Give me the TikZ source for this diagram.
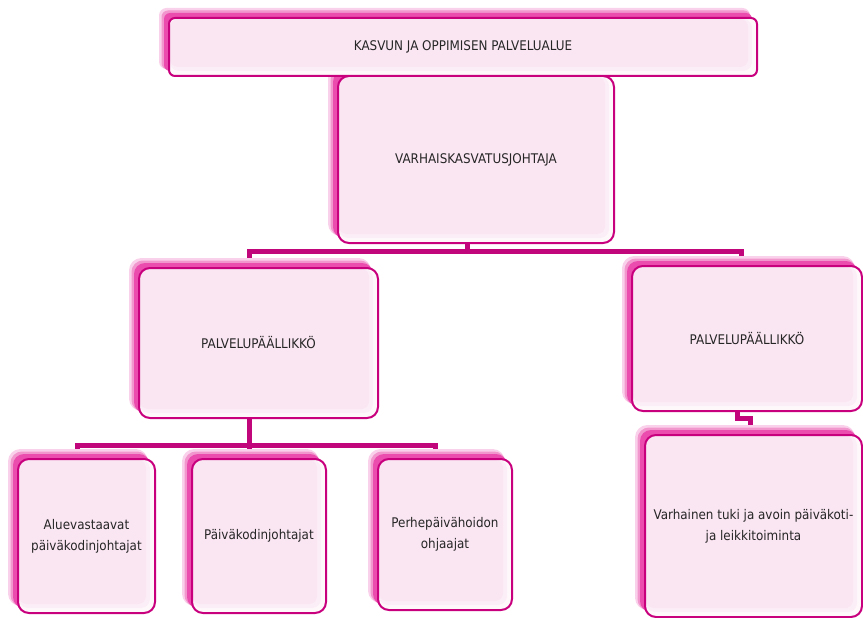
\documentclass[tikz,border=0pt]{standalone}
\usepackage{fontspec}
\setmainfont{DejaVu Sans Condensed}
\usetikzlibrary{backgrounds}
\definecolor{bordermag}{HTML}{C8007E}
\definecolor{conncol}{HTML}{C0067A}
\definecolor{shadowmag}{HTML}{E62E9E}
\definecolor{fillpink}{HTML}{FAE5F2}
\definecolor{midpink}{HTML}{FCEEF6}
\definecolor{lightpink}{HTML}{FEF8FB}
\tikzset{
  orgbox/.style={draw=bordermag, line width=2pt, rounded corners=11pt,
    fill=lightpink, text=black!85, font=\fontsize{13.3}{21}\selectfont, align=center, inner sep=0pt,
    preaction={fill=shadowmag!22, draw=shadowmag!22, line width=3pt,
      transform canvas={xshift=-8.5pt,yshift=8.5pt}},
    preaction={fill=shadowmag!50, draw=shadowmag!50, line width=1pt,
      transform canvas={xshift=-7pt,yshift=7pt}},
    preaction={fill=shadowmag!85, transform canvas={xshift=-5pt,yshift=5pt}},
    path picture={
      \fill[midpink, rounded corners=9pt]
        ([xshift=1pt,yshift=-1pt]path picture bounding box.north west) rectangle
        ([xshift=-5pt,yshift=5pt]path picture bounding box.south east);
      \fill[fillpink, rounded corners=8pt]
        ([xshift=1pt,yshift=-1pt]path picture bounding box.north west) rectangle
        ([xshift=-9pt,yshift=9pt]path picture bounding box.south east);
    }},
  conn/.style={draw=conncol, line width=5pt}
}
\begin{document}
\begin{tikzpicture}[x=1pt, y=-1pt]
\useasboundingbox (0,0) rectangle (863,618);
% boxes
\node[orgbox, minimum width=276pt, minimum height=167pt] (varh) at (476,159.5) {VARHAISKASVATUSJOHTAJA};
\node[orgbox, minimum width=588pt, minimum height=58pt, rounded corners=6pt] (top) at (463,47) {KASVUN JA OPPIMISEN PALVELUALUE};
\node[orgbox, minimum width=239pt, minimum height=150pt] (palvL) at (258.5,343) {PALVELUPÄÄLLIKKÖ};
\node[orgbox, minimum width=230pt, minimum height=145pt] (palvR) at (747,338.5) {PALVELUPÄÄLLIKKÖ};
\node[orgbox, minimum width=137pt, minimum height=154pt] (b1) at (86.5,536) {Aluevastaavat\\päiväkodinjohtajat};
\node[orgbox, minimum width=134pt, minimum height=154pt] (b2) at (259,536) {Päiväkodinjohtajat};
\node[orgbox, minimum width=134pt, minimum height=151pt] (b3) at (445,534.5) {Perhepäivähoidon\\ohjaajat};
\node[orgbox, minimum width=217pt, minimum height=182pt] (b4) at (753.5,526) {Varhainen tuki ja avoin päiväkoti-\\ja leikkitoiminta};

% connectors, beneath the boxes
\begin{scope}[on background layer]
  \draw[conn] ([xshift=-9pt]varh.south) -- ++(0,7) coordinate (hub);
  \draw[conn] ([xshift=-9.5pt]palvL.north) |- (hub) -| ([xshift=-6pt]palvR.north);
  \draw[conn] ([xshift=-9.5pt]palvL.south) -- ++(0,26) coordinate (hubL);
  \draw[conn] ([xshift=-9.5pt]b1.north) |- (hubL) -| ([xshift=-10pt]b3.north);
  \draw[conn] (hubL) -- ([xshift=-10pt]b2.north);
  \draw[conn] ([xshift=-10pt]palvR.south) -- ++(0,6) -| ([xshift=-3.5pt]b4.north);
\end{scope}
\end{tikzpicture}
\end{document}
